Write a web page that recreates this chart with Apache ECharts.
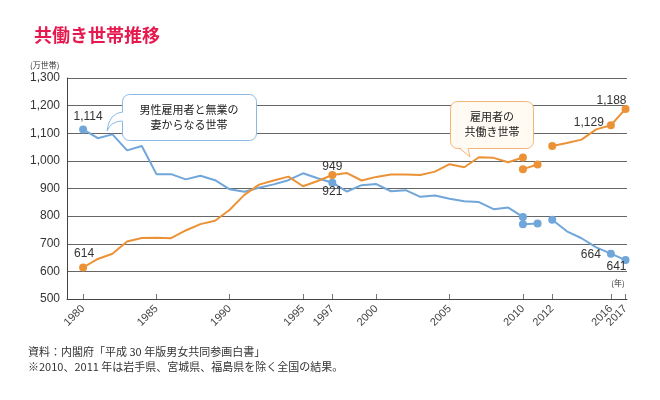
<!DOCTYPE html>
<html><head><meta charset="utf-8">
<script src="https://cdn.jsdelivr.net/npm/echarts@6/dist/echarts.min.js"></script>
<style>html,body{margin:0;padding:0;background:#fff}#c{width:660px;height:400px}</style>
</head><body><div id="c"></div>
<script>
// ---- data ----
const yearsMain = [1980,1981,1982,1983,1984,1985,1986,1987,1988,1989,1990,1991,1992,1993,1994,1995,1996,1997,1998,1999,2000,2001,2002,2003,2004,2005,2006,2007,2008,2009,2010];
const dualMain = [614,645,664,708,721,722,720,748,771,783,823,877,914,929,943,908,927,949,956,929,942,951,951,949,961,988,977,1013,1011,995,1012];
const singleMain = [1114,1082,1096,1038,1054,952,952,933,946,930,897,888,903,915,930,955,937,921,889,912,916,890,894,870,875,863,854,851,825,831,797];
const yearsExcl = [2010,2011];
const dualExcl = [970,987];
const singleExcl = [771,773];
const yearsLate = [2012,2013,2014,2015,2016,2017];
const dualLate = [1054,1065,1077,1114,1129,1188];
const singleLate = [787,745,720,687,664,641];
const xTicks = [1980,1985,1990,1995,1997,2000,2005,2010,2012,2016,2017];
const xTicksAlt = [2016];   // labelled on a twin axis so it is not dropped as overlapping
const yMin = 500, yMax = 1300, yStep = 100;
const markedYears = [1980,1997,2010,2011,2012,2016,2017];
const seriesNames = ['雇用者の共働き世帯','男性雇用者と無業の妻からなる世帯'];

// label placement (style only)
const dualLabels = {
  1980:{position:'top',distance:1,offset:[1,-3]},
  1997:{position:'top',distance:0,offset:[0,2]},
  2016:{position:'left',distance:3,offset:[0,-3]},
  2017:{position:'top',distance:0,offset:[-14,2]}
};
const singleLabels = {
  1980:{position:'top',distance:1,offset:[5,-2]},
  1997:{position:'bottom',distance:0,offset:[0,-1]},
  2016:{position:'left',distance:6,offset:[0,1]},
  2017:{position:'bottom',distance:0,offset:[-9,-3]}
};

const ORANGE = '#ec9236', BLUE = '#70a6da';
const NUMFONT = '"Liberation Sans", Arial, sans-serif';
const JPFONT = '"Noto Sans CJK JP", sans-serif';

function fmt(v){ return String(v).replace(/\B(?=(\d{3})+(?!\d))/g, ','); }
function build(years, vals, labels){
  return years.map((y,i)=>{
    const it = {value:[y, vals[i]]};
    if(!markedYears.includes(y)) it.symbol = 'none';
    if(labels && labels[y]) it.label = Object.assign({show:true, formatter: fmt(vals[i]), color:'#333', fontSize:12, fontFamily:NUMFONT}, labels[y]);
    return it;
  });
}
function line(name, data, color, z){
  return {name, type:'line', data, symbol:'circle', symbolSize:8, showAllSymbol:true, xAxisIndex:0,
    lineStyle:{color, width:2}, itemStyle:{color}, z, silent:true,
    emphasis:{disabled:true}, animation:false};
}
const xLabelStyle = {formatter:(v)=>String(v), rotate:45, fontSize:11, color:'#444', margin:8,
  fontFamily:NUMFONT, hideOverlap:false, showMinLabel:true, showMaxLabel:true};

const chart = echarts.init(document.getElementById('c'), null, {renderer:'canvas'});
chart.setOption({
  animation:false,
  title:{text:'共働き世帯推移', left:29, top:21, textStyle:{fontSize:18, fontWeight:'bold', color:'#e6194f', fontFamily:JPFONT}},
  grid:{left:67, right:33, top:78, bottom:101, containLabel:false},
  xAxis:[
    {type:'value', min:1978.9, max:2017.1, position:'bottom',
      axisLine:{show:true, lineStyle:{color:'#444', width:1}},
      axisTick:{show:true, inside:true, length:5, customValues:xTicks, lineStyle:{color:'#777'}},
      axisLabel:Object.assign({customValues:xTicks.filter(t=>!xTicksAlt.includes(t))}, xLabelStyle),
      splitLine:{show:false}},
    {type:'value', min:1978.9, max:2017.1, position:'bottom', offset:0,
      axisLine:{show:false}, axisTick:{show:false},
      axisLabel:Object.assign({customValues:xTicksAlt}, xLabelStyle),
      splitLine:{show:false}}
  ],
  yAxis:{type:'value', min:yMin, max:yMax, interval:yStep,
    axisLine:{show:true, lineStyle:{color:'#444', width:1}},
    axisTick:{show:false},
    axisLabel:{formatter:fmt, fontSize:12, color:'#333', margin:7, fontFamily:NUMFONT},
    splitLine:{show:true, lineStyle:{color:'#666', width:1}}},
  series:[
    line(seriesNames[1], build(yearsMain, singleMain, singleLabels), BLUE, 3),
    line(seriesNames[1], build(yearsExcl, singleExcl), BLUE, 3),
    line(seriesNames[1], build(yearsLate, singleLate, singleLabels), BLUE, 3),
    line(seriesNames[0], build(yearsMain, dualMain, dualLabels), ORANGE, 4),
    line(seriesNames[0], build(yearsExcl, dualExcl), ORANGE, 4),
    line(seriesNames[0], build(yearsLate, dualLate, dualLabels), ORANGE, 4)
  ],
  graphic:[
    {type:'text', z:100, style:{text:'(万世帯)', x:30, y:65, align:'left', verticalAlign:'middle', fontSize:8, fontFamily:JPFONT, fill:'#333'}},
    {type:'text', z:100, style:{text:'(年)', x:618, y:283, align:'center', verticalAlign:'middle', fontSize:8, fontFamily:JPFONT, fill:'#333'}},
    // callout: single-income
    {type:'rect', z:100, shape:{x:122.5, y:94.5, width:134, height:46, r:7}, style:{fill:'#fff', stroke:'#8cb9e3', lineWidth:1}},
    {type:'polygon', z:101, shape:{points:[[123.5,112],[112,115],[107,131],[112,124],[123.5,121]]}, style:{fill:'#fff'}},
    {type:'bezierCurve', z:102, shape:{x1:122.5,y1:112,cpx1:109,cpy1:113,x2:107,y2:131}, style:{stroke:'#8cb9e3', fill:null, lineWidth:1}},
    {type:'bezierCurve', z:102, shape:{x1:107,y1:131,cpx1:111,cpy1:121,x2:122.5,y2:121}, style:{stroke:'#8cb9e3', fill:null, lineWidth:1}},
    {type:'text', z:103, style:{text:'男性雇用者と無業の', x:189, y:110, align:'center', verticalAlign:'middle', fontSize:11, fontFamily:JPFONT, fill:'#222'}},
    {type:'text', z:103, style:{text:'妻からなる世帯', x:189, y:125, align:'center', verticalAlign:'middle', fontSize:11, fontFamily:JPFONT, fill:'#222'}},
    // callout: dual-income
    {type:'rect', z:100, shape:{x:450.5, y:101.5, width:83, height:47, r:7}, style:{fill:'#fffaf2', stroke:'#f2b57a', lineWidth:1}},
    {type:'polygon', z:101, shape:{points:[[460,147.5],[470,157],[468,147.5]]}, style:{fill:'#fffaf2'}},
    {type:'polyline', z:102, shape:{points:[[460,148.5],[470,157],[468,148.5]]}, style:{stroke:'#f2b57a', fill:null, lineWidth:1}},
    {type:'text', z:103, style:{text:'雇用者の', x:492, y:117, align:'center', verticalAlign:'middle', fontSize:11, fontFamily:JPFONT, fill:'#222'}},
    {type:'text', z:103, style:{text:'共働き世帯', x:492, y:132, align:'center', verticalAlign:'middle', fontSize:11, fontFamily:JPFONT, fill:'#222'}},
    // notes
    {type:'text', z:100, style:{text:'資料：内閣府「平成 30 年版男女共同参画白書」', x:28, y:352, align:'left', verticalAlign:'middle', fontSize:11, fontFamily:JPFONT, fill:'#333'}},
    {type:'text', z:100, style:{text:'※2010、2011 年は岩手県、宮城県、福島県を除く全国の結果。', x:28, y:367, align:'left', verticalAlign:'middle', fontSize:11, fontFamily:JPFONT, fill:'#333'}}
  ]
});
</script>
</body></html>
